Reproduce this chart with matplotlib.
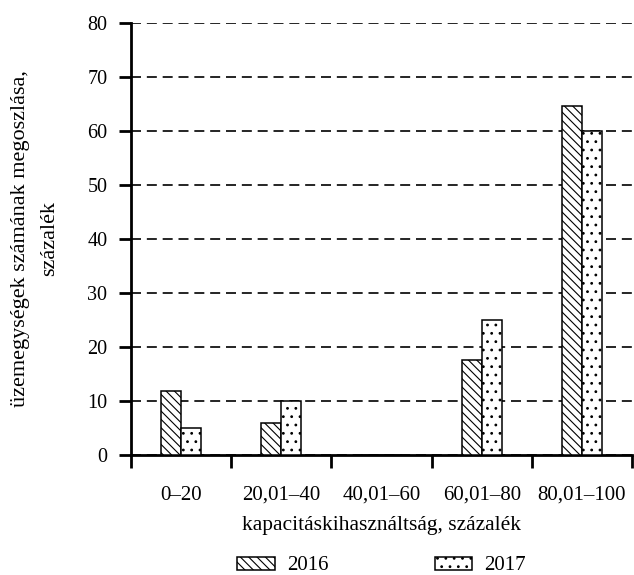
import matplotlib.pyplot as plt
import numpy as np

# Adatok
categories = ["0–20", "20,01–40", "40,01–60", "60,01–80", "80,01–100"]
values_2016 = [11.8, 6.0, 0, 17.6, 64.7]
values_2017 = [5.0, 10.0, 0, 25.0, 60.0]
series_labels = ["2016", "2017"]


def main():
    plt.rcParams["font.family"] = ["Liberation Serif", "DejaVu Serif"]
    plt.rcParams["font.size"] = 15
    plt.rcParams["hatch.linewidth"] = 0.8

    fig = plt.figure(figsize=(6.34, 5.75), dpi=100)
    ax = fig.add_axes([0.2066, 0.2087, 0.7904, 0.7513])

    x = np.arange(len(categories))
    w = 0.2
    ax.bar(x - w / 2, values_2016, w, color="white", edgecolor="black",
           linewidth=1.1, hatch="\\\\\\\\", label=series_labels[0], zorder=3)
    ax.bar(x + w / 2, values_2017, w, color="white", edgecolor="black",
           linewidth=1.1, hatch="..", label=series_labels[1], zorder=3)

    ax.set_xlim(-0.5, len(categories) - 0.5)
    ax.set_ylim(0, 80)
    ax.set_yticks(range(0, 81, 10))
    ax.yaxis.grid(True, linestyle=(0, (6, 3.5)), color="black", linewidth=1.2)
    ax.set_axisbelow(True)

    # osztóvonalak a kategóriák között
    ax.set_xticks(np.arange(-0.5, len(categories), 1.0))
    ax.set_xticklabels([])
    ax.set_xticks(x, minor=True)
    ax.set_xticklabels(categories, minor=True)
    ax.tick_params(axis="x", which="major", length=9, width=2, direction="out")
    ax.tick_params(axis="x", which="minor", length=0, pad=22, labelsize=15)
    ax.tick_params(axis="y", length=9, width=2, direction="out", pad=8,
                   labelsize=14.5)

    for s in ["top", "right"]:
        ax.spines[s].set_visible(False)
    ax.spines["left"].set_linewidth(2)
    ax.spines["bottom"].set_linewidth(2)

    ax.set_xlabel("kapacitáskihasználtság, százalék", labelpad=8, fontsize=15.5)
    ax.set_ylabel("üzemegységek számának megoszlása,\nszázalék", labelpad=20,
                  fontsize=16, linespacing=1.75)

    fig.legend(loc="center", bbox_to_anchor=(381.5 / 634, 1 - 566 / 575), ncol=2,
               frameon=False, handlelength=1.82, handleheight=0.6,
               handletextpad=0.58, columnspacing=5.1, fontsize=15)

    plt.savefig("out.png", dpi=100)
    plt.close()


if __name__ == "__main__":
    main()
